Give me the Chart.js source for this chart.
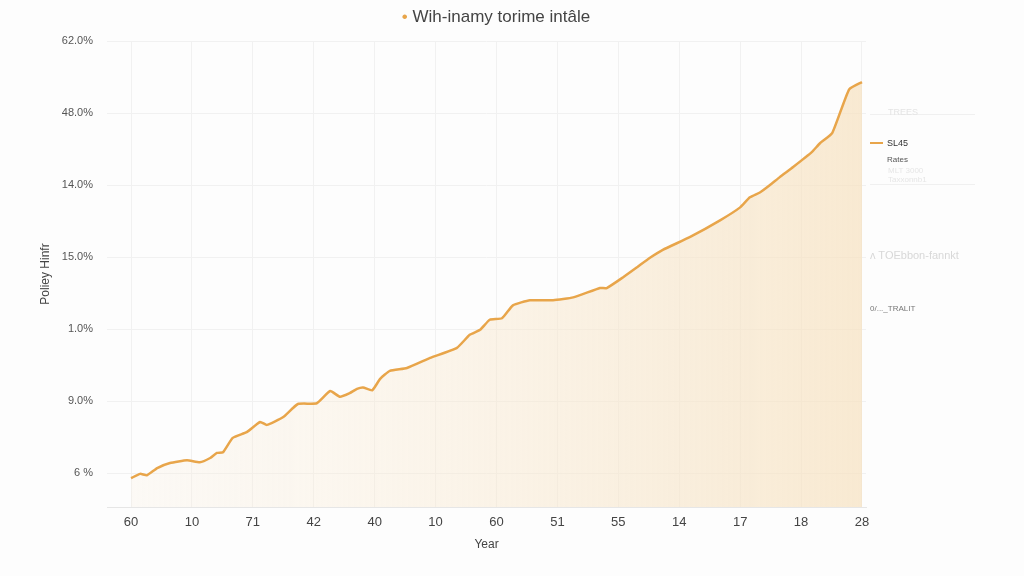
<!DOCTYPE html>
<html><head><meta charset="utf-8">
<script src="https://cdn.jsdelivr.net/npm/chart.js@4"></script>
<style>
html,body{margin:0;padding:0;background:#fdfdfd;}
#wrap{position:relative;width:1024px;height:576px;font-family:"Liberation Sans",Arial,sans-serif;overflow:hidden;}
canvas{position:absolute;left:0;top:0;}
.t{position:absolute;white-space:nowrap;line-height:1;}
</style></head><body>
<div id="wrap">
<canvas id="c" width="1024" height="576"></canvas>
<div class="t" style="left:0;width:992px;top:8px;text-align:center;font-size:17px;color:#444;"><span style="color:#E8A54A">•</span> Wih-inamy torime intâle</div>
<div class="t" style="left:870px;top:108px;width:105px;border-bottom:1px solid #f0f0f0;height:6px;"></div>
<div class="t" style="left:888px;top:108px;font-size:9px;color:#e4e4e4;">TREES</div>
<div class="t" style="left:870px;top:142px;width:13px;height:2px;background:#E8A54A;"></div>
<div class="t" style="left:887px;top:139px;font-size:9px;color:#333;">SL45</div>
<div class="t" style="left:887px;top:156px;font-size:8px;color:#555;">Rates</div>
<div class="t" style="left:888px;top:167px;font-size:8px;color:#e6e6e6;">MLT 3000</div>
<div class="t" style="left:888px;top:176px;font-size:8px;color:#e6e6e6;">Taxxonnb1</div>
<div class="t" style="left:870px;top:184px;width:105px;border-top:1px solid #f0f0f0;"></div>
<div class="t" style="left:870px;top:250px;font-size:11px;color:#d8d8d8;">ʌ TOEbbon-fannkt</div>
<div class="t" style="left:870px;top:305px;font-size:8px;color:#777;">0/..._TRALIT</div>
</div>
<script>
const xTickLabels = ['60','10','71','42','40','10','60','51','55','14','17','18','28'];
const yTickLabels = ['6 %','9.0%','1.0%','15.0%','14.0%','48.0%','62.0%'];
const yearPositions = [0,0.15,0.26,0.43,0.64,0.92,1.13,1.30,1.41,1.51,1.67,1.90,2.12,2.23,2.50,2.74,3.05,3.27,3.43,3.59,3.71,3.81,3.96,4.09,4.25,4.53,4.91,5.35,5.56,5.73,5.89,6.09,6.27,6.55,6.93,7.26,7.70,7.81,8.08,8.31,8.52,8.73,9.18,9.67,10.00,10.16,10.33,10.49,10.65,10.87,11.18,11.31,11.51,11.79,12.00];
const rateValues = [-0.07,-0.01,-0.03,0.07,0.14,0.18,0.15,0.21,0.28,0.29,0.49,0.57,0.71,0.67,0.78,0.96,0.97,1.14,1.06,1.11,1.17,1.19,1.15,1.31,1.42,1.46,1.60,1.74,1.92,1.99,2.13,2.15,2.33,2.40,2.40,2.44,2.57,2.57,2.72,2.86,2.99,3.10,3.28,3.51,3.69,3.83,3.90,4.00,4.11,4.25,4.46,4.58,4.72,5.33,5.43];
const seriesName = 'SL45';

const font = '"Liberation Sans", Arial, sans-serif';
new Chart(document.getElementById('c'), {
  type: 'line',
  data: {
    datasets: [{
      label: seriesName,
      data: yearPositions.map((x, i) => ({x: x, y: rateValues[i]})),
      borderColor: '#E8A54A',
      borderWidth: 2.5,
      pointRadius: 0,
      tension: 0.15,
      fill: 'start',
      backgroundColor: (ctx) => {
        const a = ctx.chart.chartArea;
        if (!a) return 'rgba(248,232,205,0.4)';
        const g = ctx.chart.ctx.createLinearGradient(a.left, 0, a.right, 0);
        g.addColorStop(0, 'rgba(250,238,220,0.2)');
        g.addColorStop(1, 'rgba(246,226,194,0.75)');
        return g;
      }
    }]
  },
  options: {
    responsive: false,
    animation: false,
    layout: {padding: {left: 0, top: 41, right: 158, bottom: 0}},
    plugins: {legend: {display: false}, tooltip: {enabled: false}},
    scales: {
      x: {
        type: 'linear', min: -0.394, max: 12.066,
        afterBuildTicks: s => { s.ticks = xTickLabels.map((_, i) => ({value: i})); },
        afterFit: s => { s.height = 69; },
        ticks: {callback: (v, i) => xTickLabels[i], font: {family: font, size: 13}, color: '#444', padding: 8, maxRotation: 0, autoSkip: false},
        grid: {color: '#f1f1f1', drawTicks: false},
        border: {color: '#e6e6e6'},
        title: {display: true, text: 'Year', font: {family: font, size: 12}, color: '#444', padding: 24}
      },
      y: {
        type: 'linear', min: -0.47, max: 6,
        afterBuildTicks: s => { s.ticks = yTickLabels.map((_, i) => ({value: i})); },
        afterFit: s => { s.width = 107; },
        ticks: {callback: (v, i) => yTickLabels[i], font: {family: font, size: 11}, color: '#555', padding: 14},
        grid: {color: '#f1f1f1', drawTicks: false},
        border: {display: false},
        title: {display: true, text: 'Poliey Hinfr', font: {family: font, size: 12}, color: '#444', padding: 38}
      }
    }
  }
});
</script>
</body></html>
